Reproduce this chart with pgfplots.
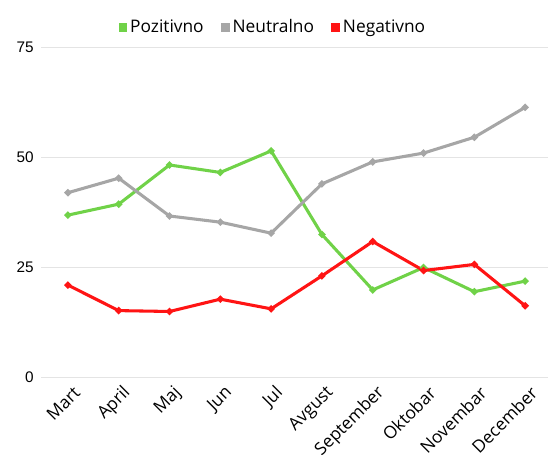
\documentclass[border=0pt]{standalone}
\usepackage{fontspec}
\setmainfont{Open Sans}
\newfontfamily\yfont{Liberation Sans}
\usepackage{pgfplots}
\pgfplotsset{compat=1.18}
\definecolor{cpos}{RGB}{112,210,72}
\definecolor{cneu}{RGB}{166,166,166}
\definecolor{cneg}{RGB}{255,20,20}
\definecolor{cgrid}{RGB}{228,228,228}
\begin{document}
\begin{tikzpicture}[x=1pt,y=1pt]
\begin{axis}[
  scale only axis,
  width=380.25pt, height=247.5pt,
  xmin=-0.53, xmax=9.45,
  ymin=0, ymax=75,
  axis line style={draw=none},
  xtick=data,
  xticklabels={Mart,April,Maj,Jun,Jul,Avgust,September,Oktobar,Novembar,December},
  xticklabel style={rotate=45, anchor=east, xshift=1.5pt, yshift=-11.5pt, font=\fontsize{13}{15}\selectfont},
  ytick={0,25,50,75},
  yticklabel style={font=\yfont\fontsize{11.5}{13}\selectfont, xshift=-2pt},
  /pgf/number format/assume math mode=true,
  major tick length=0pt,
  ymajorgrids, grid style={cgrid, line width=0.8pt},
  legend style={draw=none, fill=none, at={(0.458,1.062)}, anchor=center,
    legend columns=-1, font=\fontsize{13}{15}\selectfont,
    /tikz/every even column/.append style={column sep=11pt}},
  legend image code/.code={\fill[#1] (2pt,-2.2pt) rectangle (6.4pt,2.2pt);},
  every axis plot/.append style={line width=2.3pt, mark=*, mark size=1.3pt},
]
\addplot[cpos, mark options={fill=cpos}] coordinates {(0,36.9) (1,39.4) (2,48.3) (3,46.6) (4,51.5) (5,32.5) (6,19.9) (7,25.0) (8,19.5) (9,21.9)};
\addlegendentry{Pozitivno}
\addplot[cneu, mark options={fill=cneu}] coordinates {(0,42.0) (1,45.3) (2,36.7) (3,35.3) (4,32.8) (5,44.0) (6,49.0) (7,51.0) (8,54.6) (9,61.4)};
\addlegendentry{Neutralno}
\addplot[cneg, mark options={fill=cneg}] coordinates {(0,21.0) (1,15.2) (2,15.0) (3,17.8) (4,15.6) (5,23.1) (6,30.9) (7,24.3) (8,25.7) (9,16.3)};
\addlegendentry{Negativno}
\end{axis}
\pgfresetboundingbox
\path[use as bounding box] ([xshift=-30.75pt,yshift=-64.125pt]current axis.south west) rectangle ([yshift=35.625pt]current axis.north east);
\end{tikzpicture}
\end{document}
